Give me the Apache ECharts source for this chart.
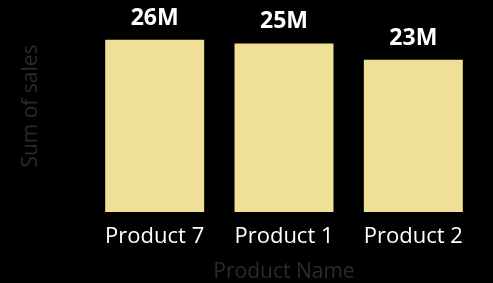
<!DOCTYPE html>
<html>
<head>
<meta charset="utf-8">
<script src="https://cdn.jsdelivr.net/npm/echarts@6/dist/echarts.min.js"></script>
<style>
  html, body { margin: 0; padding: 0; background: #000; }
  #main { width: 493px; height: 283px; }
</style>
</head>
<body>
<div id="main"></div>
<script>
// 数据
var products = ['Product 7', 'Product 1', 'Product 2'];
var sales = [26.0, 25.45, 23.0]; // 单位 M

var myChart = echarts.init(document.getElementById('main'));

var option = {
    backgroundColor: '#000',
    animation: false,
    textStyle: { fontFamily: 'Open Sans' },
    grid: {
        top: 0,
        left: 90,
        right: 15,
        bottom: 71,
        containLabel: false,
        outerBoundsMode: 'none'
    },
    xAxis: {
        type: 'category',
        data: products,
        name: 'Product Name',
        nameLocation: 'middle',
        nameGap: 50,
        nameTextStyle: { color: '#2b2b2b', fontSize: 21 },
        axisLine: { show: false },
        axisTick: { show: false },
        axisLabel: { color: '#fff', fontSize: 22, margin: 14 }
    },
    yAxis: {
        type: 'value',
        min: 0,
        max: 32,
        name: 'Sum of sales',
        nameLocation: 'middle',
        nameGap: 48,
        nameTextStyle: { color: '#2b2b2b', fontSize: 21 },
        axisLine: { show: false },
        axisTick: { show: false },
        axisLabel: { show: false },
        splitLine: { show: false }
    },
    series: [
        {
            type: 'bar',
            data: sales,
            barWidth: 99,
            itemStyle: { color: '#F0DF96' },
            label: {
                show: true,
                position: 'top',
                distance: 10,
                color: '#fff',
                fontSize: 23,
                fontWeight: 'bold',
                formatter: function (p) {
                    return Math.round(p.value) + 'M';
                }
            }
        }
    ]
};

myChart.setOption(option);
</script>
</body>
</html>
